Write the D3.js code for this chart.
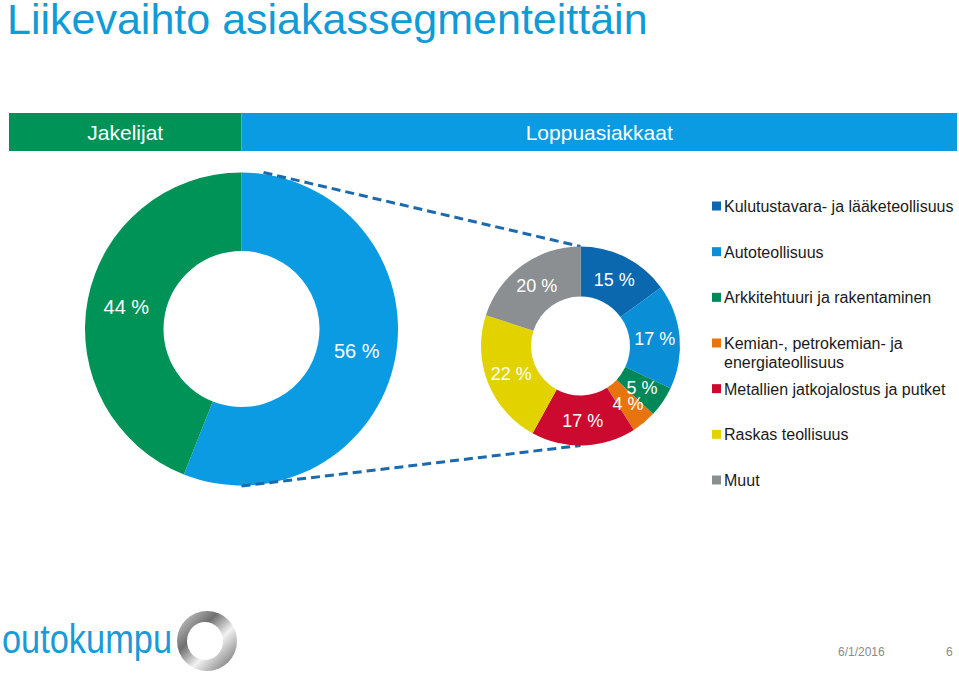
<!DOCTYPE html>
<html>
<head>
<meta charset="utf-8">
<script src="https://cdn.jsdelivr.net/npm/d3@7"></script>
<style>
  body { margin: 0; background: #fff; }
  svg { display: block; font-family: "Liberation Sans", Arial, sans-serif; }
</style>
</head>
<body>
<svg id="board" width="959" height="673"></svg>
<script>
// asiakasryhmät (iso donitsi)
const groupNames = ["Loppuasiakkaat", "Jakelijat"];
const groupValues = [56, 44];
const groupColors = ["#0b9be3", "#009358"];

// loppuasiakassegmentit (pieni donitsi)
const segNames = [
    "Kulutustavara- ja lääketeollisuus",
    "Autoteollisuus",
    "Arkkitehtuuri ja rakentaminen",
    "Kemian-, petrokemian- ja energiateollisuus",
    "Metallien jatkojalostus ja putket",
    "Raskas teollisuus",
    "Muut"
];
const segValues = [15, 17, 5, 4, 17, 22, 20];
const segColors = ["#0b68ae", "#0a8fd6", "#00885a", "#e8740f", "#cc0a2f", "#e2d300", "#8c8f92"];

const svg = d3.select("#board");

// otsikko
svg.append("text")
    .attr("x", 7).attr("y", 34)
    .attr("font-size", 43)
    .attr("fill", "#0f9ad8")
    .text("Liikevaihto asiakassegmenteittäin");

// otsikkopalkki
const bigCx = 241.5, bigCy = 329;
const barX = d3.scaleLinear().domain([0, 1]).range([9, 957]);
svg.append("rect").attr("x", barX(0)).attr("y", 113)
    .attr("width", bigCx - barX(0)).attr("height", 38).attr("fill", groupColors[1]);
svg.append("rect").attr("x", bigCx).attr("y", 113)
    .attr("width", barX(1) - bigCx).attr("height", 38).attr("fill", groupColors[0]);
svg.append("text").attr("x", (barX(0) + bigCx) / 2).attr("y", 140)
    .attr("text-anchor", "middle").attr("fill", "#fff").attr("font-size", 21)
    .text(groupNames[1]);
svg.append("text").attr("x", (bigCx + barX(1)) / 2).attr("y", 140)
    .attr("text-anchor", "middle").attr("fill", "#fff").attr("font-size", 21)
    .text(groupNames[0]);

// iso donitsi
const bigOuter = 156.5, bigInner = 78;
const bigPie = d3.pie().sort(null).value(d => d)(groupValues);
const bigArc = d3.arc().innerRadius(bigInner).outerRadius(bigOuter);
const gBig = svg.append("g").attr("transform", `translate(${bigCx},${bigCy})`);
gBig.selectAll("path").data(bigPie).enter().append("path")
    .attr("d", bigArc)
    .attr("fill", (d, i) => groupColors[i]);
gBig.selectAll("text").data(bigPie).enter().append("text")
    .attr("transform", d => `translate(${bigArc.centroid(d)})`)
    .attr("text-anchor", "middle").attr("dy", "0.36em")
    .attr("fill", "#fff").attr("font-size", 20)
    .text(d => d.data + " %");

// pieni donitsi
const smCx = 580.5, smCy = 346;
const smOuter = 99.5, smInner = 49.5;
const smPie = d3.pie().sort(null).value(d => d)(segValues);
const smArc = d3.arc().innerRadius(smInner).outerRadius(smOuter);

// katkoviivat
const dash = svg.append("g").attr("stroke", "#1c6aae").attr("stroke-width", 3)
    .attr("stroke-dasharray", "9,5");
dash.append("line").attr("x1", bigCx + 22).attr("y1", bigCy - bigOuter)
    .attr("x2", smCx).attr("y2", smCy - smOuter);
dash.append("line").attr("x1", bigCx).attr("y1", bigCy + bigOuter + 0.5)
    .attr("x2", smCx).attr("y2", smCy + smOuter);

const gSm = svg.append("g").attr("transform", `translate(${smCx},${smCy})`);
gSm.selectAll("path").data(smPie).enter().append("path")
    .attr("d", smArc)
    .attr("fill", (d, i) => segColors[i]);
gSm.selectAll("text").data(smPie).enter().append("text")
    .attr("transform", d => `translate(${smArc.centroid(d)})`)
    .attr("text-anchor", "middle").attr("dy", "0.36em")
    .attr("fill", "#fff").attr("font-size", 18)
    .text(d => d.data + " %");

// selite
const legendY = d3.scaleLinear().domain([0, 6]).range([206.5, 480.5]);
const legend = svg.append("g");
segNames.forEach((name, i) => {
    const cy = legendY(i);
    legend.append("rect").attr("x", 712).attr("y", cy - 5)
        .attr("width", 9).attr("height", 9).attr("fill", segColors[i]);
    const t = legend.append("text").attr("x", 724).attr("y", cy + 5.5)
        .attr("font-size", 16).attr("fill", "#1a1a1a");
    if (i === 3) {
        t.text("Kemian-, petrokemian- ja");
        legend.append("text").attr("x", 724).attr("y", cy + 24.5)
            .attr("font-size", 16).attr("fill", "#1a1a1a").text("energiateollisuus");
    } else {
        t.text(name);
    }
});

// logo
svg.append("text").attr("x", 2).attr("y", 653)
    .attr("font-size", 40).attr("fill", "#1a9ad6")
    .attr("textLength", 170).attr("lengthAdjust", "spacingAndGlyphs")
    .text("outokumpu");
const defs = svg.append("defs");
const grad = defs.append("linearGradient").attr("id", "ring")
    .attr("x1", "0").attr("y1", "0").attr("x2", "1").attr("y2", "1");
grad.append("stop").attr("offset", "0%").attr("stop-color", "#dcdcdc");
grad.append("stop").attr("offset", "35%").attr("stop-color", "#6f6f6f");
grad.append("stop").attr("offset", "60%").attr("stop-color", "#f2f2f2");
grad.append("stop").attr("offset", "100%").attr("stop-color", "#5a5a5a");
svg.append("circle").attr("cx", 207).attr("cy", 641).attr("r", 30).attr("fill", "url(#ring)");
svg.append("ellipse").attr("cx", 205).attr("cy", 641).attr("rx", 18).attr("ry", 19).attr("fill", "#fff");

// alatunniste
svg.append("text").attr("x", 838).attr("y", 656).attr("font-size", 12)
    .attr("fill", "#8a8a8a").text("6/1/2016");
svg.append("text").attr("x", 946).attr("y", 656).attr("font-size", 12)
    .attr("fill", "#8a8a8a").text("6");
</script>
</body>
</html>
